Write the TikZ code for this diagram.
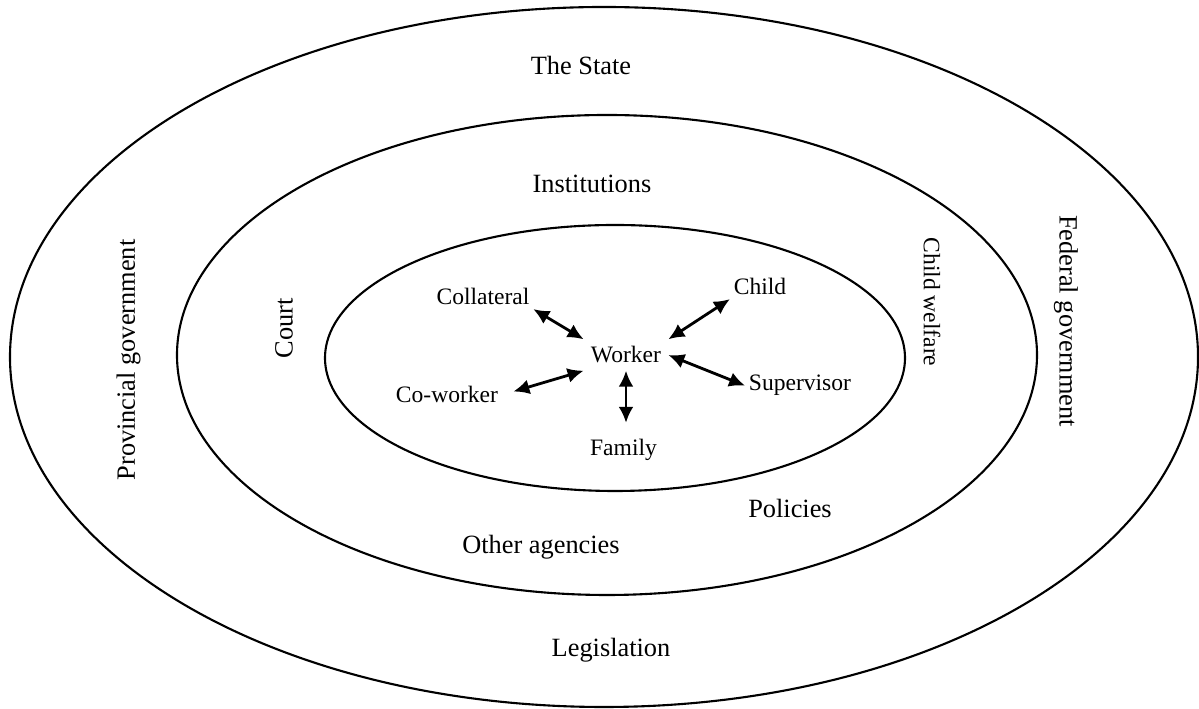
\documentclass[tikz,border=0pt]{standalone}
\usepackage{fontspec}
\setmainfont{Liberation Serif}
\usetikzlibrary{arrows.meta}
\tikzset{
  ring/.style={line width=1.2pt},
  ringlabel/.style={font=\fontsize{15}{18}\selectfont},
  actor/.style={font=\fontsize{13.4}{16}\selectfont, inner sep=2pt, anchor=base},
  link/.style={<->, line width=1.6pt},
}
\begin{document}
\begin{tikzpicture}[>={Latex[length=3.2mm,width=3mm]}]
            \useasboundingbox (0,0) rectangle (23.98,14.18);
            % the three rings
            \draw[ring] (12.08,7.04) ellipse (11.88 and 7.0);
            \draw[ring] (12.14,7.08) ellipse (8.6 and 4.8);
            \draw[ring] (12.30,7.02) ellipse (5.8 and 2.66);
            % outer ring
            \node[ringlabel, anchor=base] (state) at (11.62,12.68) {The State};
            \node[ringlabel, rotate=90] (prov) at (2.57,6.98) {Provincial government};
            \node[ringlabel, rotate=-90] (fed) at (21.32,7.76) {Federal government};
            \node[ringlabel, anchor=base] (legis) at (12.22,1.04) {Legislation};
            % middle ring
            \node[ringlabel, anchor=base] (inst) at (11.84,10.32) {Institutions};
            \node[ringlabel, rotate=90] (court) at (5.68,7.62) {Court};
            \node[actor, anchor=center, rotate=-90] (welfare) at (18.64,8.14) {Child welfare};
            \node[ringlabel, anchor=base] (policies) at (15.80,3.82) {Policies};
            \node[ringlabel, anchor=base] (others) at (10.82,3.10) {Other agencies};
            % inner ring
            \node[actor, inner sep=4pt] (work) at (12.52,6.92) {Worker};
            \node[actor] (coll) at (9.66,8.08) {Collateral};
            \node[actor] (child) at (15.20,8.28) {Child};
            \node[actor] (cow) at (8.94,6.12) {Co-worker};
            \node[actor] (sup) at (16.00,6.36) {Supervisor};
            \node[actor] (fam) at (12.47,5.06) {Family};
            \draw[link] (coll.south east) -- (work.north west);
            \draw[link] (work.north east) -- (child.south west);
            \draw[link, shorten <=0.24cm] (cow.east) -- (work.south west);
            \draw[link] (work.east) -- (sup.west);
            \draw[link, shorten >=0.26cm] (work.south) -- (work.south |- fam.north);
\end{tikzpicture}
\end{document}
